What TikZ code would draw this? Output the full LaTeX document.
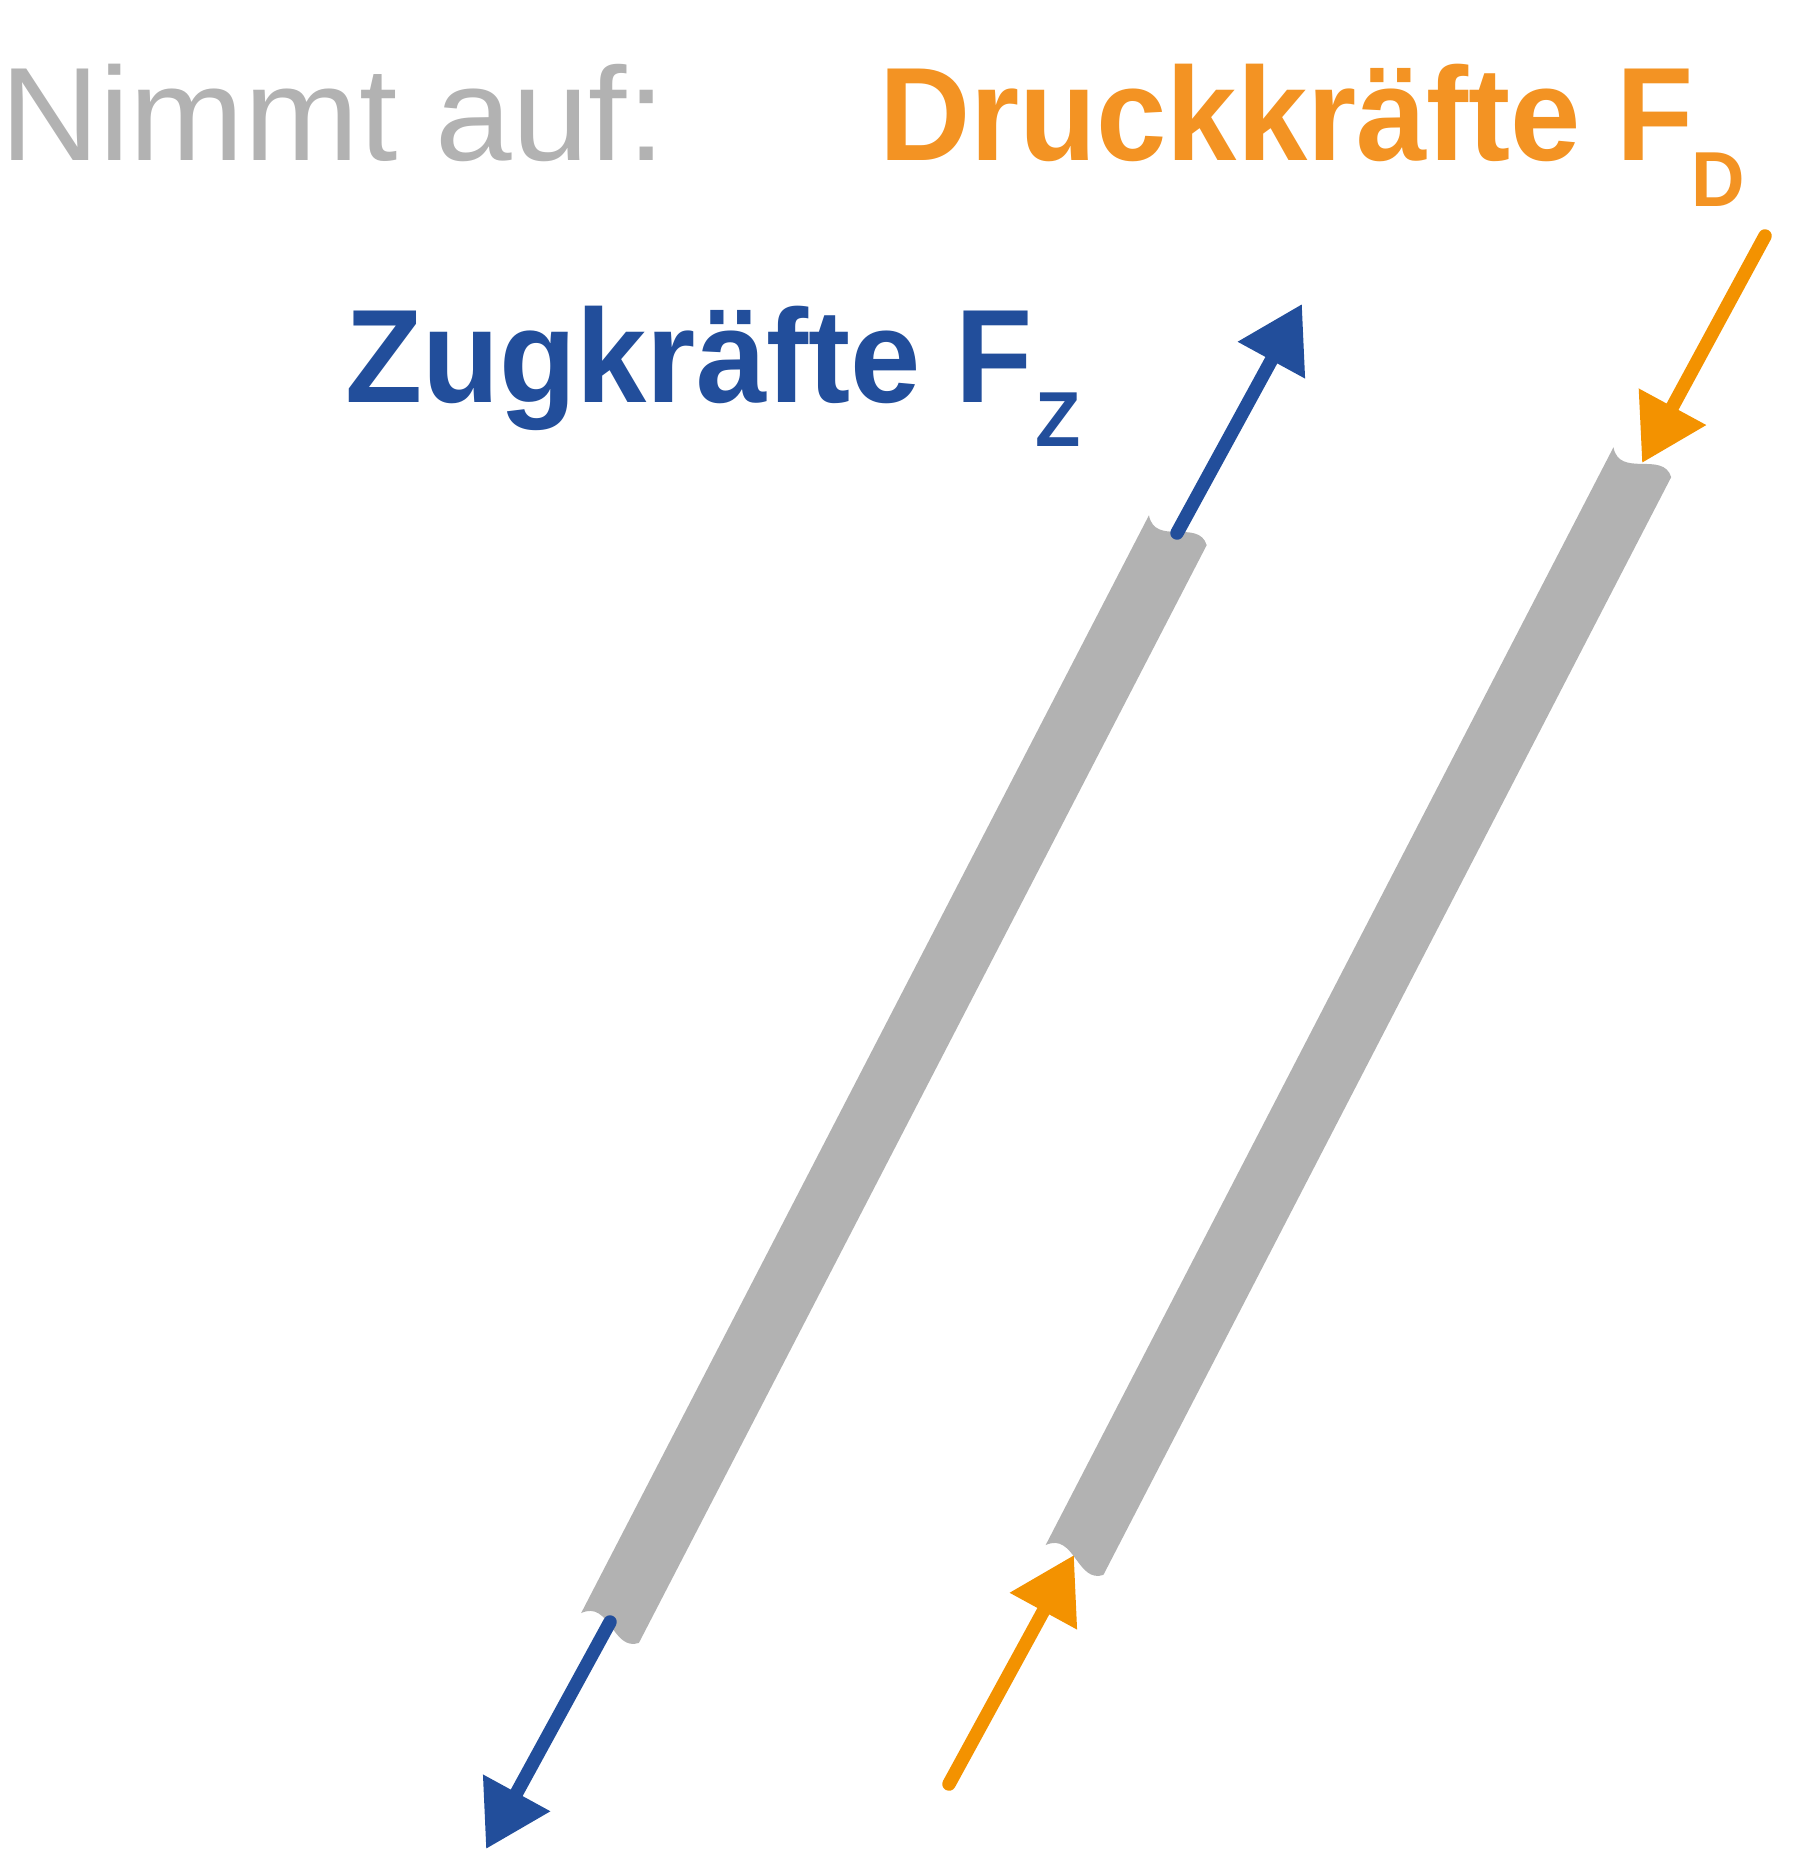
\documentclass[tikz,border=0pt]{standalone}
\usepackage{fontspec}
\setmainfont{Liberation Sans}
\usetikzlibrary{arrows.meta}
\definecolor{bargray}{HTML}{B2B2B2}
\definecolor{zblue}{HTML}{224E9B}
\definecolor{dorange}{HTML}{F39323}
\definecolor{aorange}{HTML}{F39200}
\begin{document}
\begin{tikzpicture}[x=1pt,y=-1pt,
  barshape/.style={fill=bargray, draw=none},
  force/.style={line width=13.5pt, line cap=round, -{Triangle[length=64pt,width=73pt]}},
  lbl/.style={inner sep=0pt, outer sep=0pt, anchor=base west}]
\useasboundingbox (0,0) rectangle (1817,1851);

% bars
\begin{scope}[shift={(610,1628)}, rotate=62.65]
  \fill[barshape] (0,32.5) .. controls (-20,13) and (25,-13) .. (0,-32.5)
    -- (1236,-32.5) .. controls (1211,-13) and (1256,13) .. (1236,32.5) -- cycle;
\end{scope}
\begin{scope}[shift={(1074.5,1560)}, rotate=62.65]
  \fill[barshape] (0,32.5) .. controls (-20,13) and (25,-13) .. (0,-32.5)
    -- (1236,-32.5) .. controls (1211,-13) and (1256,13) .. (1236,32.5) -- cycle;
\end{scope}

% arrow end points
\coordinate (zt0) at (1177,533);
\coordinate (zt1) at (1302,304);
\coordinate (zb0) at (610,1622);
\coordinate (zb1) at (486,1849);
\coordinate (dt0) at (1765,236);
\coordinate (dt1) at (1642,463);
\coordinate (db0) at (949,1784);
\coordinate (db1) at (1074,1555);

\draw[force, zblue] (zt0) -- (zt1);
\draw[force, zblue] (zb0) -- (zb1);
\draw[force, aorange] (dt0) -- (dt1);
\draw[force, aorange] (db0) -- (db1);

% texts
\node[lbl, text=bargray, font=\fontsize{133}{133}\selectfont, xscale=1.035] (nimmt) at (0,160.6) {Nimmt auf:};
\node[lbl, text=dorange, font=\bfseries\fontsize{133}{133}\selectfont, xscale=0.95] (druck) at (879,160.6)
  {Druckkräfte F\hspace{-2pt}\raisebox{-46pt}{\fontsize{78}{78}\selectfont D}};
\node[lbl, text=zblue, font=\bfseries\fontsize{133}{133}\selectfont, xscale=0.95] (zug) at (345,402.6)
  {Zugkräfte F\hspace{3pt}\raisebox{-44pt}{\fontsize{78}{78}\selectfont Z}};
\end{tikzpicture}
\end{document}
